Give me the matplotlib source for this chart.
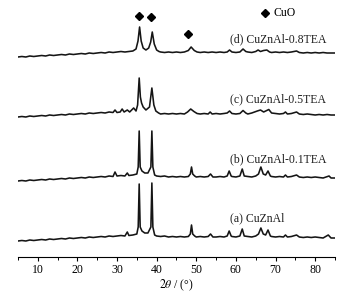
import matplotlib
matplotlib.use("Agg")
import matplotlib.pyplot as plt
from matplotlib.ticker import MultipleLocator

plt.rcParams['font.family'] = ['Liberation Serif', 'DejaVu Serif']
plt.rcParams['mathtext.fontset'] = 'stix'

# ---- data: (2theta, stacked intensity) ----
A_PTS = [(5, 16), (6, 16.5), (7, 16), (8, 17), (9, 16.5), (10, 17), (11, 17.5), (12, 17), (13, 18), (14, 17.5),
         (15, 18), (16, 18.5), (17, 18), (18, 19), (19, 18.5), (20, 19), (21, 19.5), (22, 19), (23, 20), (24, 19.5),
         (25, 20), (26, 20.5), (27, 20), (28, 21), (29, 20.5), (30, 21), (31, 21.5), (32, 21), (32.6, 25), (33, 21.5),
         (34, 22), (35, 23), (35.35, 30), (35.6, 73), (35.85, 30), (36.3, 26), (37, 24), (37.8, 24), (38.55, 30),
         (38.8, 74), (39.05, 30), (39.5, 22), (40, 21), (41, 20.5), (42, 21), (43, 20), (44, 20.5), (45, 20),
         (46, 20.5), (47, 20), (48, 20.5), (48.5, 23), (48.8, 32), (49.1, 23), (49.6, 21), (50, 20), (51, 20.5),
         (52, 20), (53, 20.5), (53.6, 23), (54.2, 20), (55, 20), (56, 20.5), (57, 20), (57.8, 21), (58.3, 26),
         (58.8, 21), (59, 20.5), (60, 20), (61, 21), (61.6, 28), (62.1, 21), (63, 20.5), (64, 20), (65, 21),
         (65.7, 23), (66.3, 29), (66.9, 23), (67.5, 22), (68.1, 27), (68.7, 21), (69, 20.5), (70, 20), (71, 20.5),
         (72, 20), (72.5, 22), (73, 20), (74, 20.5), (75.3, 22), (76, 20), (77, 19.5), (78, 20), (79, 19.5),
         (80, 20), (81, 19.5), (82, 19), (83.3, 22), (84, 19), (85, 19)]

B_PTS = [(5, 76), (6, 76.5), (7, 76), (8, 77), (9, 76.5), (10, 77), (11, 77.5), (12, 77), (13, 78), (14, 77.5),
         (15, 78), (16, 78.5), (17, 78), (18, 79), (19, 78.5), (20, 79), (21, 79.5), (22, 79), (23, 80), (24, 79.5),
         (25, 80), (26, 80.5), (27, 80), (28, 81), (29, 80.5), (29.5, 85), (30, 81), (31, 81.5), (32, 81),
         (32.6, 84), (33, 81.5), (34, 82), (35, 83), (35.35, 90), (35.6, 126), (35.85, 90), (36.3, 86), (37, 84),
         (37.8, 84), (38.55, 90), (38.8, 126), (39.05, 90), (39.5, 82), (40, 81), (41, 80.5), (42, 81), (43, 80),
         (44, 80.5), (45, 80), (46, 80.5), (47, 80), (48, 80.5), (48.5, 83), (48.8, 90), (49.1, 83), (49.6, 81),
         (50, 80), (51, 80.5), (52, 80), (53, 80.5), (53.6, 83), (54.2, 80), (55, 80), (56, 80.5), (57, 80),
         (57.8, 81), (58.3, 86), (58.8, 81), (59, 80.5), (60, 80), (61, 81), (61.6, 88), (62.1, 81), (63, 80.5),
         (64, 80), (65, 81), (65.7, 83), (66.3, 90), (66.9, 83), (67.5, 82), (68.1, 86), (68.7, 81), (69, 80.5),
         (70, 80), (71, 80.5), (72, 80), (72.5, 82), (73, 80), (74, 80.5), (75.3, 82), (76, 80), (77, 79.5),
         (78, 80), (79, 79.5), (80, 80), (81, 79.5), (82, 79), (83.5, 81), (84, 79), (85, 79)]

C_PTS = [(5, 140), (6, 140.5), (7, 140), (8, 141), (9, 140.5), (10, 141), (11, 141.5), (12, 141), (13, 142),
         (14, 141.5), (15, 142), (16, 142.5), (17, 142), (18, 143), (19, 142.5), (20, 143), (21, 143.5), (22, 143),
         (23, 144), (24, 143.5), (25, 144), (26, 144.5), (27, 144), (28, 145), (29, 144.5), (29.5, 147), (30, 144.5),
         (30.8, 145), (31.3, 148), (31.8, 145), (32.6, 147), (33.2, 145), (34.2, 149), (34.8, 146), (35.2, 152),
         (35.6, 179), (35.9, 160), (36.2, 154), (36.6, 150), (37.3, 147), (38.2, 150), (38.8, 169), (39.3, 152),
         (39.8, 146), (40.5, 144), (41, 143), (42, 143.5), (43, 143), (44, 143.5), (45, 143), (46, 143.5), (47, 143),
         (47.8, 145), (48.6, 148), (49.4, 145.5), (50.2, 143.5), (51, 143), (52, 143.5), (53, 143), (53.5, 145),
         (54, 143), (55, 143.5), (56, 143), (57, 143.5), (57.8, 144), (58.4, 146), (59, 143.5), (60, 143),
         (61, 143.5), (61.8, 146.5), (62.5, 144), (63, 143), (64, 144), (65.4, 146), (66.2, 147), (67, 145),
         (68.3, 147.5), (69, 144), (70, 143.5), (71, 143), (72, 143.5), (72.5, 145), (73, 143), (74, 143.5),
         (75.3, 145), (76, 143), (77, 142.5), (78, 143), (79, 142.5), (80, 142), (81, 142.5), (82, 142),
         (83, 142.5), (84, 142), (85, 142)]

D_PTS = [(5, 200), (6, 200.5), (7, 200), (8, 201), (9, 200.5), (10, 201), (11, 201.5), (12, 201), (13, 202),
         (14, 201.5), (15, 202), (16, 202.5), (17, 202), (18, 203), (19, 202.5), (20, 203), (21, 203.5), (22, 203),
         (23, 204), (24, 203.5), (25, 204), (26, 204.5), (27, 204), (28, 205), (29, 204.5), (30, 205), (31, 205.5),
         (32, 205), (33, 205.5), (34, 206), (34.8, 208), (35.3, 216), (35.7, 230), (36.1, 216), (36.6, 209),
         (37.3, 207), (38.0, 209), (38.5, 215), (38.9, 225), (39.4, 213), (40, 207), (40.6, 205.5), (41, 205),
         (42, 204.5), (43, 205), (44, 204.5), (45, 205), (46, 204.5), (47, 205), (48, 206.5), (48.7, 210),
         (49.5, 206.5), (50.2, 205), (51, 204.5), (52, 205), (53, 204.5), (54, 205), (55, 204.5), (56, 205),
         (57, 204.5), (57.8, 205), (58.4, 207), (59, 205), (60, 204.5), (61, 205), (61.8, 208), (62.5, 205.5),
         (63, 205), (64, 204.5), (65, 205.5), (65.6, 207), (66.2, 205.5), (67, 206.5), (67.8, 207), (68.5, 205),
         (69, 204.5), (70, 205), (71, 204.5), (72, 205), (73, 204.5), (74, 205), (75.3, 206), (76, 204.5),
         (77, 204), (78, 204.5), (79, 204), (80, 204.5), (81, 204), (82, 204.5), (83, 204), (84, 204), (85, 204)]

SERIES = [A_PTS, B_PTS, C_PTS, D_PTS]
LABELS = ['(a) CuZnAl', '(b) CuZnAl-0.1TEA', '(c) CuZnAl-0.5TEA', '(d) CuZnAl-0.8TEA']
LABEL_Y = [39, 98, 158, 218]
CUO_X = [35.6, 38.7, 47.95]
CUO_Y = [241, 240, 223]
XTICKS = [10, 20, 30, 40, 50, 60, 70, 80]

fig = plt.figure(figsize=(3.43, 2.94), dpi=100)
ax = fig.add_axes([17.9 / 343, 37 / 294, (335 - 17.9) / 343, 257 / 294])

line_kw = dict(color='#151515', lw=1.15)
for pts in SERIES:
    xs = [p[0] for p in pts]
    ys = [p[1] for p in pts]
    ax.plot(xs, ys, **line_kw)

for lab, ly in zip(LABELS, LABEL_Y):
    ax.text(58.6, ly, lab, fontsize=8.5, ha='left', va='center', color='#1e1e1e')

ax.plot(CUO_X, CUO_Y, 'D', color='black', ms=4.2, ls='none')
ax.plot([67.4], [244], 'D', color='black', ms=4.0)
ax.text(69.4, 244, 'CuO', fontsize=8.5, ha='left', va='center')

ax.set_xlim(5, 85)
ax.set_ylim(0, 257)
ax.set_xticks(XTICKS)
ax.xaxis.set_minor_locator(MultipleLocator(5))
ax.set_yticks([])
for s in ['left', 'right', 'top']:
    ax.spines[s].set_visible(False)
ax.spines['bottom'].set_linewidth(0.8)
ax.tick_params(axis='x', which='major', length=3, width=0.8, labelsize=8.5, pad=2)
ax.tick_params(axis='x', which='minor', length=1.8, width=0.7)
ax.set_xlabel(r'$2\theta$ / (°)', fontsize=8.5, labelpad=1)
ax.patch.set_alpha(0)

fig.savefig('out.png', dpi=100)
